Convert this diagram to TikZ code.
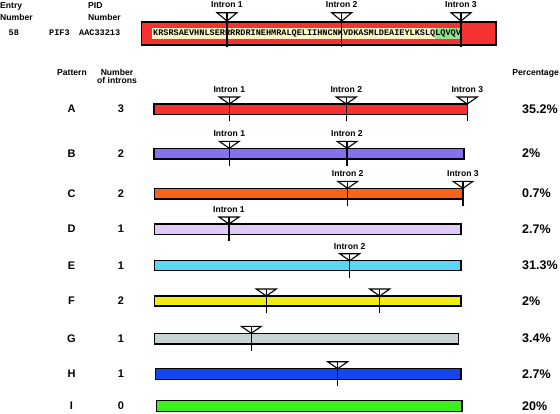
\documentclass[tikz,border=0pt]{standalone}
\usepackage{fontspec}
\setmainfont{Liberation Sans}
\setmonofont{Liberation Mono}
\definecolor{cA}{RGB}{245,50,50}
\definecolor{cB}{RGB}{135,112,240}
\definecolor{cC}{RGB}{245,100,25}
\definecolor{cD}{RGB}{226,202,248}
\definecolor{cE}{RGB}{90,215,245}
\definecolor{cF}{RGB}{240,235,20}
\definecolor{cG}{RGB}{200,210,210}
\definecolor{cH}{RGB}{20,70,240}
\definecolor{cI}{RGB}{60,240,30}
\definecolor{cream}{RGB}{255,246,196}
\definecolor{seqgreen}{RGB}{140,232,140}
\newcommand\intronmark[5]{% name, x, bar top, bar bottom, label
  \coordinate (#1) at (#2,#3);
  \draw[tri] (#2-10,#3-7) -- (#2+10,#3-7) -- (#1) -- cycle;
  \draw[intronline] (#2,#3-7) -- (#2,#4+7);
  \node[lab, anchor=center] (#1l) at (#2,#3-14.5) {#5};
}
\begin{document}
\begin{tikzpicture}[x=1pt,y=-1pt,
  lab/.style={font=\bfseries\fontsize{8.6}{9}\selectfont, inner sep=0pt},
  rowlab/.style={font=\bfseries\fontsize{11}{12}\selectfont, inner sep=0pt},
  pct/.style={font=\bfseries\fontsize{12.5}{14}\selectfont, inner sep=0pt, anchor=west},
  monot/.style={font=\ttfamily\bfseries\fontsize{8.55}{9}\selectfont, inner sep=0pt},
  bar/.style={draw=black, line width=1.3pt},
  tri/.style={draw=black, fill=white, line width=1.1pt, line join=miter},
  intronline/.style={line width=1.3pt}]
\useasboundingbox (0,0) rectangle (560,413);
% ---- header ----
\node[lab, anchor=base west] (entry1) at (0,8.3) {Entry};
\node[lab, anchor=base west] (entry2) at (0,20.7) {Number};
\node[lab, anchor=base west] (pid1) at (88,8.3) {PID};
\node[lab, anchor=base west] (pid2) at (88,20.7) {Number};
\node[monot, anchor=base west] (num58) at (8.5,35.8) {58};
\node[monot, anchor=base west] (pif) at (49,35.8) {PIF3};
\node[monot, anchor=base west] (aac) at (79,35.8) {AAC33213};
\draw[bar, fill=cA] (141.7,22) rectangle (496,45);
\fill[cream] (151.7,28) rectangle (435,39);
\fill[seqgreen] (435,28) rectangle (460,39);
\node[monot, anchor=west] (seq) at (153,33.5) {KRSRSAEVHNLSERRRRDRINEHMRALQELIIHNCNKVDKASMLDEAIEYLKSLQLQVQV};
\foreach \n/\x/\t in {t1/227/Intron 1, t2/341.7/Intron 2, t3/461/Intron 3}{
  \coordinate (\n) at (\x,21);
  \draw[tri] (\x-10,12.7) -- (\x+10,12.7) -- (\n) -- cycle;
  \draw[intronline] (\x,12.7) -- (\x,47);
  \node[lab] (\n l) at (\x,4.2) {\t};
}
% ---- column headers ----
\node[lab, anchor=base] (pat) at (72,75) {Pattern};
\node[lab, anchor=base] (noi1) at (117,75) {Number};
\node[lab, anchor=base] (noi2) at (117,83.3) {of introns};
\node[lab, anchor=base east] (perc) at (559,75) {Percentage};
% ---- rows ----
\foreach \r/\c/\n/\p/\xa/\xb/\ya/\yb in {
  A/cA/3/35.2\%/154/467.3/104/114.3,
  B/cB/2/2\%/154/464/148.3/159,
  C/cC/2/0.7\%/154.3/463/188.3/199,
  D/cD/1/2.7\%/154.3/461/224/234.3,
  E/cE/1/31.3\%/154.3/461/260.7/270.7,
  F/cF/2/2\%/154.3/461/296/306,
  G/cG/1/3.4\%/154.3/458.7/333.3/344,
  H/cH/1/2.7\%/155.3/461/368.7/379.3,
  I/cI/0/20\%/156.7/462/400.7/411.3}{
  \draw[bar, fill=\c] (\xa,\ya) rectangle (\xb,\yb);
  \node[rowlab] (L\r) at (71.5,{(\ya+\yb)/2}) {\r};
  \node[rowlab] (N\r) at (121,{(\ya+\yb)/2}) {\n};
  \node[pct] (P\r) at (522,{(\ya+\yb)/2}) {\p};
}
\intronmark{a1}{229.3}{104}{114.3}{Intron 1}
\intronmark{a2}{346.3}{104}{114.3}{Intron 2}
\intronmark{a3}{467.3}{104}{114.3}{Intron 3}
\intronmark{b1}{229.3}{148.3}{159}{Intron 1}
\intronmark{b2}{347}{148.3}{159}{Intron 2}
\intronmark{c2}{347.7}{188.3}{199}{Intron 2}
\intronmark{c3}{463}{188.3}{199}{Intron 3}
\intronmark{d1}{229}{224}{234.3}{Intron 1}
\intronmark{e2}{349.7}{260.7}{270.7}{Intron 2}
\intronmark{f1}{266.3}{296}{306}{}
\intronmark{f2}{379.7}{296}{306}{}
\intronmark{g1}{251.3}{333.3}{344}{}
\intronmark{h1}{337.7}{368.7}{379.3}{}
\end{tikzpicture}
\end{document}
